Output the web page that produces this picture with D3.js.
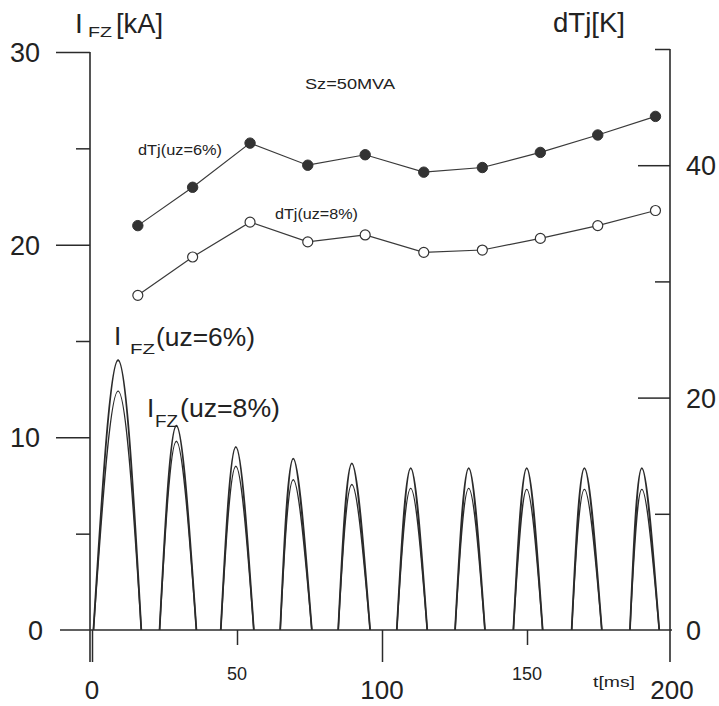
<!DOCTYPE html>
<html>
<head>
<meta charset="utf-8">
<script src="https://cdn.jsdelivr.net/npm/d3@7"></script>
<style>
  html, body { margin: 0; padding: 0; background: #fff; }
  svg { display: block; font-family: "Liberation Sans", Arial, sans-serif; }
</style>
</head>
<body>
<svg id="chart" width="719" height="706"></svg>
<script>
// ---------- data ----------
// dTj points (right axis, K) at times t (ms)
const dTjTime = [15.8, 34.7, 54.5, 74.4, 94.2, 114.4, 134.6, 154.6, 174.4, 194.3];
const dTjUz6  = [34.8, 38.1, 41.9, 40.0, 40.9, 39.4, 39.8, 41.1, 42.6, 44.2];
const dTjUz8  = [28.8, 32.1, 35.1, 33.4, 34.0, 32.5, 32.7, 33.7, 34.8, 36.1];

// current pulses I_FZ (left axis, kA): start, peak time, end (ms), peak values
const pulseStart = [0.5, 23.3, 44.4, 64.9, 84.9, 105.1, 125.2, 145.3, 165.4, 185.5];
const pulsePeakT = [9.0, 29.1, 49.6, 69.4, 89.6, 109.9, 129.9, 149.9, 169.8, 189.6];
const pulseEnd   = [17.0, 36.0, 55.8, 75.8, 95.9, 115.6, 135.5, 155.4, 175.8, 195.6];
const peakUz6    = [14.0, 10.6, 9.5, 8.9, 8.65, 8.4, 8.4, 8.4, 8.4, 8.4];
const peakUz8    = [12.4, 9.8, 8.5, 7.8, 7.55, 7.35, 7.35, 7.3, 7.3, 7.3];

// ticks
const leftMajor  = [0, 10, 20, 30];
const leftMinor  = [5, 15, 25];
const rightMajor = [20, 40];
const rightMinor = [10, 30, 50];
const rightLabels = [0, 20, 40];
const xMajor = [0, 100, 200];
const xMinor = [50, 150];

// ---------- drawing ----------
const svg = d3.select("#chart");
const ink = "#2b2b2b";

const x  = d3.scaleLinear().domain([0, 200]).range([92, 672]);
const yL = d3.scaleLinear().domain([0, 30]).range([630, 52]);
const yR = d3.scaleLinear().domain([0, 50]).range([630, 49]);

function styleAxis(g) {
  g.select(".domain").remove();
  g.selectAll("line").attr("stroke", ink).attr("stroke-width", 1.5);
  g.selectAll("text").remove();
}

// axis lines
const axes = svg.append("g").attr("stroke", ink).attr("stroke-width", 1.6).attr("fill", "none");
axes.append("line").attr("x1", x(0) - 2).attr("x2", x(0) - 2).attr("y1", yL(30)).attr("y2", yL(0) + 32);
axes.append("line").attr("x1", x(0) - 32).attr("x2", x(200)).attr("y1", yL(0)).attr("y2", yL(0));
axes.append("line").attr("x1", x(200) - 2).attr("x2", x(200) - 2).attr("y1", yR(50)).attr("y2", yR(0) + 32);

// left ticks (outward)
svg.append("g").attr("transform", `translate(${x(0) - 2},0)`)
  .call(d3.axisLeft(yL).tickValues(leftMajor.filter(d => d > 0)).tickSize(34).tickSizeOuter(0)).call(styleAxis);
svg.append("g").attr("transform", `translate(${x(0) - 2},0)`)
  .call(d3.axisLeft(yL).tickValues(leftMinor).tickSize(14).tickSizeOuter(0)).call(styleAxis);

// right ticks (inward)
svg.append("g").attr("transform", `translate(${x(200) - 2},0)`)
  .call(d3.axisLeft(yR).tickValues(rightMajor).tickSize(32).tickSizeOuter(0)).call(styleAxis);
svg.append("g").attr("transform", `translate(${x(200) - 2},0)`)
  .call(d3.axisLeft(yR).tickValues(rightMinor).tickSize(15).tickSizeOuter(0)).call(styleAxis);

// bottom ticks
svg.append("g").attr("transform", `translate(0,${yL(0)})`)
  .call(d3.axisBottom(x).tickValues(xMajor.filter(d => d < 200)).tickSize(32).tickSizeOuter(0)).call(styleAxis);
svg.append("g").attr("transform", `translate(0,${yL(0)})`)
  .call(d3.axisBottom(x).tickValues(xMinor).tickSize(15).tickSizeOuter(0)).call(styleAxis);

// tick labels
const txt = svg.append("g").attr("fill", "#222");
txt.selectAll(".ll").data(leftMajor).join("text")
  .attr("x", d => d === 0 ? 43 : 40).attr("y", d => yL(d) + 10)
  .attr("text-anchor", "end").attr("font-size", 27).text(d => d);
txt.selectAll(".rl").data(rightLabels).join("text")
  .attr("x", 686).attr("y", d => yR(d) + 10)
  .attr("text-anchor", "start").attr("font-size", 27).text(d => d);
txt.selectAll(".xl").data(xMajor).join("text")
  .attr("x", d => x(d)).attr("y", 699)
  .attr("text-anchor", "middle").attr("font-size", 26).text(d => d);
txt.selectAll(".xm").data(xMinor).join("text")
  .attr("x", d => x(d)).attr("y", 680)
  .attr("text-anchor", "middle").attr("font-size", 18).text(d => d);
txt.append("text").attr("x", 593).attr("y", 687).attr("font-size", 15)
  .attr("textLength", 42).attr("lengthAdjust", "spacingAndGlyphs").text("t[ms]");

// axis titles
txt.append("text").attr("x", 75).attr("y", 33).attr("font-size", 28).text("I");
txt.append("text").attr("x", 88).attr("y", 37).attr("font-size", 15)
  .attr("textLength", 24).attr("lengthAdjust", "spacingAndGlyphs").text("FZ");
txt.append("text").attr("x", 116).attr("y", 33).attr("font-size", 27)
  .attr("textLength", 47).attr("lengthAdjust", "spacingAndGlyphs").text("[kA]");
txt.append("text").attr("x", 553).attr("y", 32).attr("font-size", 27)
  .attr("textLength", 72).attr("lengthAdjust", "spacingAndGlyphs").text("dTj[K]");

txt.append("text").attr("x", 305).attr("y", 89).attr("font-size", 15)
  .attr("textLength", 90).attr("lengthAdjust", "spacingAndGlyphs").text("Sz=50MVA");

// current pulses
const pulseLine = d3.line().x(d => x(d[0])).y(d => yL(d[1])).curve(d3.curveNatural);
function pulses(peaks) {
  return pulseStart.map((s, i) => [[s, 0], [pulsePeakT[i], peaks[i]], [pulseEnd[i], 0]]);
}
const cur = svg.append("g").attr("fill", "none").attr("stroke", ink).attr("stroke-width", 1.8);
cur.selectAll(".p6").data(pulses(peakUz6)).join("path").attr("d", pulseLine);
cur.selectAll(".p8").data(pulses(peakUz8)).join("path").attr("d", pulseLine).attr("stroke-width", 1.4);

// dTj lines & markers
const tLine = d3.line().x(d => x(d[0])).y(d => yR(d[1]));
const s6 = dTjTime.map((t, i) => [t, dTjUz6[i]]);
const s8 = dTjTime.map((t, i) => [t, dTjUz8[i]]);
svg.append("path").attr("d", tLine(s6)).attr("fill", "none").attr("stroke", "#3a3a3a").attr("stroke-width", 1.2);
svg.append("path").attr("d", tLine(s8)).attr("fill", "none").attr("stroke", "#3a3a3a").attr("stroke-width", 1.2);
svg.append("g").selectAll("circle").data(s6).join("circle")
  .attr("cx", d => x(d[0])).attr("cy", d => yR(d[1])).attr("r", 5.2)
  .attr("fill", "#333").attr("stroke", "#333");
svg.append("g").selectAll("circle").data(s8).join("circle")
  .attr("cx", d => x(d[0])).attr("cy", d => yR(d[1])).attr("r", 5)
  .attr("fill", "#fff").attr("stroke", "#333").attr("stroke-width", 1.2);

// series labels
txt.append("text").attr("x", 138).attr("y", 155).attr("font-size", 14)
  .attr("textLength", 84).attr("lengthAdjust", "spacingAndGlyphs").text("dTj(uz=6%)");
txt.append("text").attr("x", 275).attr("y", 219).attr("font-size", 14)
  .attr("textLength", 83).attr("lengthAdjust", "spacingAndGlyphs").text("dTj(uz=8%)");

txt.append("text").attr("x", 114).attr("y", 345).attr("font-size", 26).text("I");
txt.append("text").attr("x", 130).attr("y", 354).attr("font-size", 15)
  .attr("textLength", 25).attr("lengthAdjust", "spacingAndGlyphs").text("FZ");
txt.append("text").attr("x", 156).attr("y", 346).attr("font-size", 26)
  .attr("textLength", 99).attr("lengthAdjust", "spacingAndGlyphs").text("(uz=6%)");

txt.append("text").attr("x", 147).attr("y", 417).attr("font-size", 26).text("I");
txt.append("text").attr("x", 155).attr("y", 427).attr("font-size", 16)
  .attr("textLength", 23).attr("lengthAdjust", "spacingAndGlyphs").text("FZ");
txt.append("text").attr("x", 180).attr("y", 417).attr("font-size", 26)
  .attr("textLength", 100).attr("lengthAdjust", "spacingAndGlyphs").text("(uz=8%)");
</script>
</body>
</html>
